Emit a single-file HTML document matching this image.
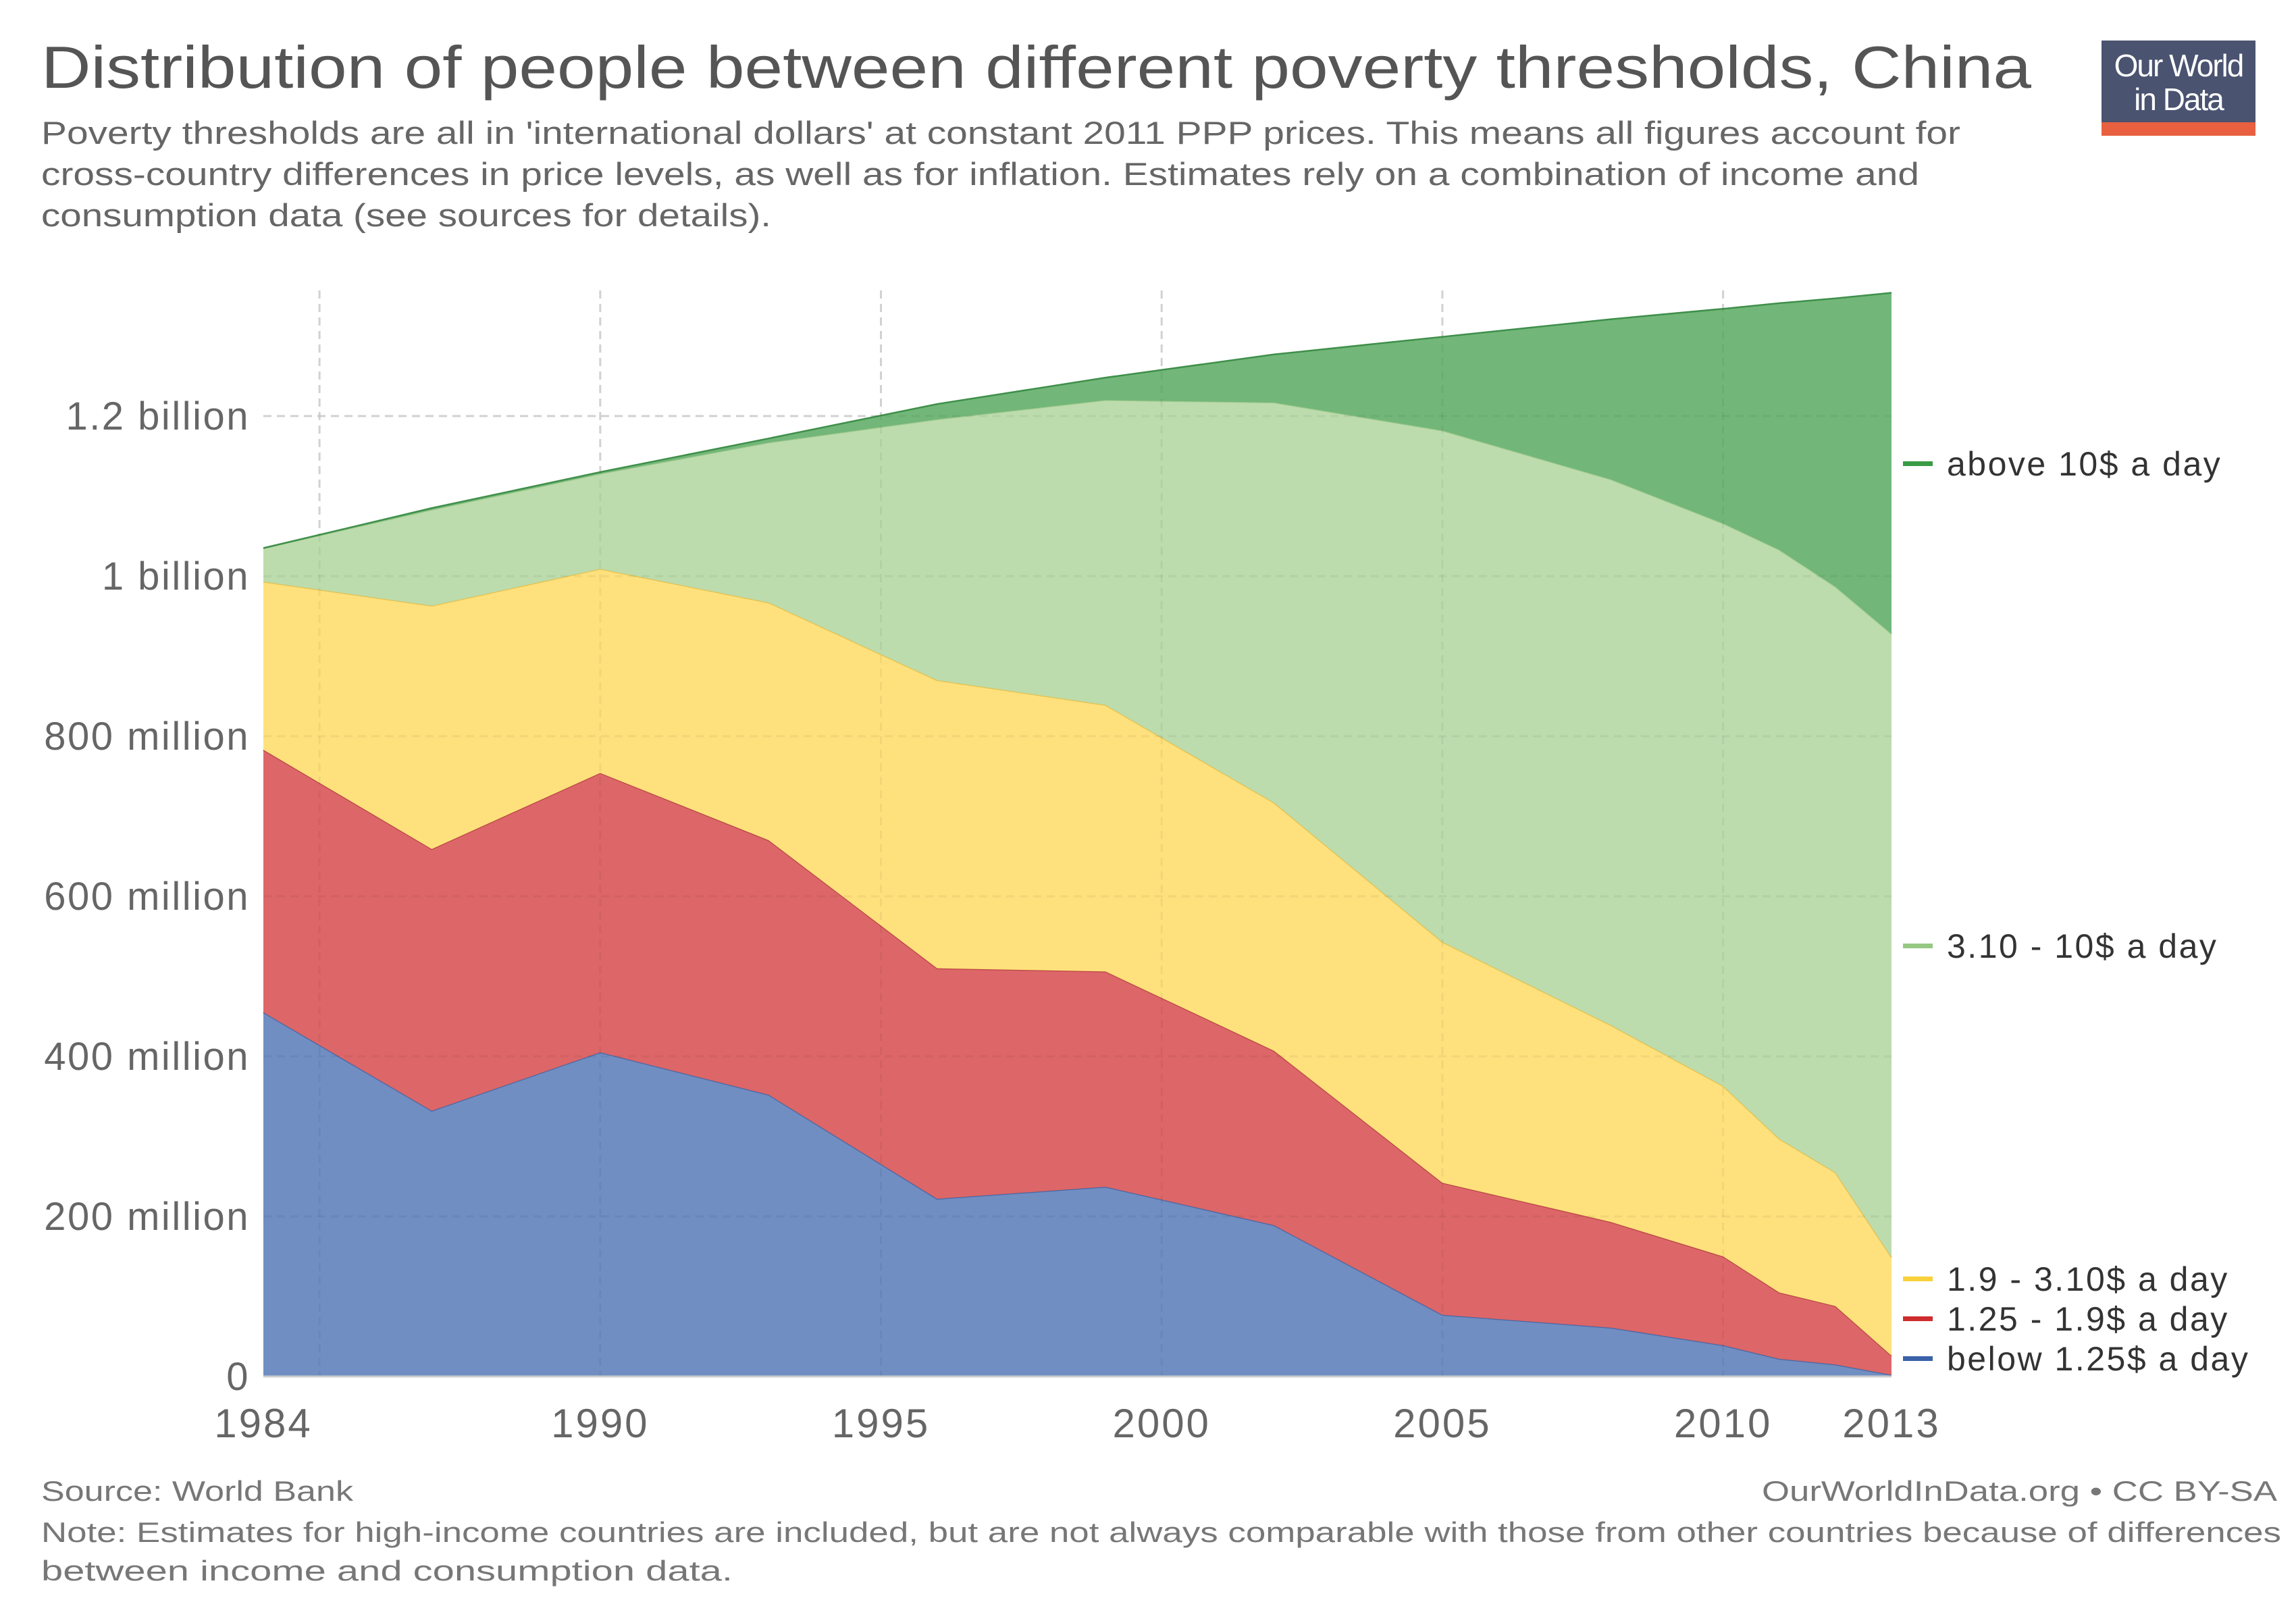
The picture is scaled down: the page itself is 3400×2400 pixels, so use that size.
<!DOCTYPE html>
<html><head><meta charset="utf-8"><style>
html,body{margin:0;padding:0;background:#fff;}
svg{display:block;font-family:"Liberation Sans",sans-serif;}
</style></head><body>
<svg id="chart" width="3400" height="2400" viewBox="0 0 3400 2400">
<text x="61" y="130" font-size="88" fill="#555" textLength="2947" lengthAdjust="spacingAndGlyphs">Distribution of people between different poverty thresholds, China</text>
<g font-size="47" fill="#666">
<text x="61" y="213" textLength="2842" lengthAdjust="spacingAndGlyphs">Poverty thresholds are all in 'international dollars' at constant 2011 PPP prices. This means all figures account for</text>
<text x="61" y="274" textLength="2781" lengthAdjust="spacingAndGlyphs">cross-country differences in price levels, as well as for inflation. Estimates rely on a combination of income and</text>
<text x="61" y="335" textLength="1081" lengthAdjust="spacingAndGlyphs">consumption data (see sources for details).</text>
</g>
<g>
<rect x="3112" y="60" width="228" height="121" fill="#4a5370"/>
<rect x="3112" y="181" width="228" height="20" fill="#e8603f"/>
<text x="3226" y="113" font-size="46" fill="#fff" text-anchor="middle" letter-spacing="-2">Our World</text>
<text x="3226" y="163" font-size="46" fill="#fff" text-anchor="middle" letter-spacing="-2">in Data</text>
</g>
<g id="grid"></g>
<g id="areas"></g>
<g id="yaxis"></g>
<g id="xaxis"></g>
<g id="legend"></g>
<text x="61" y="2222" font-size="42" fill="#777" textLength="462" lengthAdjust="spacingAndGlyphs">Source: World Bank</text>
<text x="2609" y="2222" font-size="42" fill="#777" textLength="763" lengthAdjust="spacingAndGlyphs">OurWorldInData.org • CC BY-SA</text>
<text x="61" y="2283" font-size="42" fill="#777" textLength="3317" lengthAdjust="spacingAndGlyphs">Note: Estimates for high-income countries are included, but are not always comparable with those from other countries because of differences</text>
<text x="61" y="2340" font-size="42" fill="#777" textLength="1024" lengthAdjust="spacingAndGlyphs">between income and consumption data.</text>
</svg>
<script>
const years = [1984,1987,1990,1993,1996,1999,2002,2005,2008,2010,2011,2012,2013];
const below125 = [455,332,405,352,222,237,189,77,61,39,22,15,2];
const r125to19 = [328,327,349,318,288,269,218,165,132,111,83,73,24];
const r19to31 = [210,304,255,297,360,333,310,301,246,213,192,167,123];
const r31to10 = [42,120,119,200,326,381,500,639,682,703,736,732,779];
const above10 = [0,2,2,5,19,28,60,117,200,268,308,360,426];
const yTicks = [0,200,400,600,800,1000,1200];
const yTickLabels = ["0","200 million","400 million","600 million","800 million","1 billion","1.2 billion"];
const xTicks = [1984,1990,1995,2000,2005,2010,2013];
const xGrid = [1985,1990,1995,2000,2005,2010];
const seriesNames = ["below 1.25$ a day","1.25 - 1.9$ a day","1.9 - 3.10$ a day","3.10 - 10$ a day","above 10$ a day"];

const NS="http://www.w3.org/2000/svg";
const X0=390,X1=2801,Y0=2038,PER=237/200;
const xs=y=>X0+(y-1984)/(2013-1984)*(X1-X0);
const ys=v=>Y0-v*PER;
function mk(t,a,p){const e=document.createElementNS(NS,t);for(const k in a)e.setAttribute(k,a[k]);p.appendChild(e);return e;}

const grid=document.getElementById('grid');
yTicks.forEach((v,i)=>{ if(v>0){
 const l=mk('line',{x1:X0,x2:X1,y1:ys(v),y2:ys(v),stroke:'#ddd','stroke-width':3,'stroke-dasharray':'12,8'},grid);
 
 }});
xGrid.forEach(y=>{
 const l=mk('line',{x1:xs(y),x2:xs(y),y1:430,y2:Y0,stroke:'#ddd','stroke-width':3,'stroke-dasharray':'12,8'},grid);
 
 });

const series=[below125,r125to19,r19to31,r31to10,above10];
const fills=['#6d8cc1','#dc6465','#fee07a','#bbdbab','#6fb676'];
const strokes=['#4a68a6','#b84446','#e6c14f','#9cc78a','#3f8f4a'];
const areas=document.getElementById('areas');
let base=years.map(()=>0);
series.forEach((s,k)=>{
 const top=base.map((b,i)=>b+s[i]);
 let d='M'+years.map((y,i)=>xs(y)+','+ys(top[i])).join('L');
 for(let i=years.length-1;i>=0;i--) d+='L'+xs(years[i])+','+ys(base[i]);
 d+='Z';
 const p=mk('path',{d:d,fill:fills[k],'fill-opacity':0.98},areas);
 
 
 const ln=mk('path',{d:'M'+years.map((y,i)=>xs(y)+','+ys(top[i])).join('L'),fill:'none',stroke:strokes[k],'stroke-width':2.5},areas);
 
 
 base=top;
});
yTicks.forEach(v=>{ if(v>0){
 const l=mk('line',{x1:X0,x2:X1,y1:ys(v),y2:ys(v),stroke:'#000','stroke-opacity':0.05,'stroke-width':3,'stroke-dasharray':'12,8'},areas);
 
 }});
xGrid.forEach(y=>{
 const l=mk('line',{x1:xs(y),x2:xs(y),y1:430,y2:Y0,stroke:'#000','stroke-opacity':0.05,'stroke-width':3,'stroke-dasharray':'12,8'},areas);
 
 });

const ya=document.getElementById('yaxis');
yTicks.forEach((v,i)=>{
 const t=mk('text',{x:370,y:ys(v)+20,'font-size':58,fill:'#666','text-anchor':'end','letter-spacing':2.5},ya);
 t.textContent=yTickLabels[i];
 
 });
const xa=document.getElementById('xaxis');
const ax=mk('line',{x1:X0,x2:X1,y1:Y0,y2:Y0,stroke:'#ccc','stroke-width':3},xa);


xTicks.forEach(y=>{
 const t=mk('text',{x:xs(y),y:2128,'font-size':60,fill:'#666','text-anchor':'middle','letter-spacing':3},xa);
 t.textContent=y;
 
 });

const lg=document.getElementById('legend');
const legY=[2012,1953,1894,1401,687];
const legC=['#3b62a8','#cf2c2e','#f9d13a','#96c884','#3a9b45'];
seriesNames.forEach((n,k)=>{
 const g=mk('g',{},lg);
 
 
 mk('rect',{x:2818,y:legY[k]-4,width:44,height:7,fill:legC[k]},g);
 const t=mk('text',{x:2883,y:legY[k]+17,'font-size':50,fill:'#333','letter-spacing':2.5},g);
 t.textContent=n;
});
</script>
</body></html>
